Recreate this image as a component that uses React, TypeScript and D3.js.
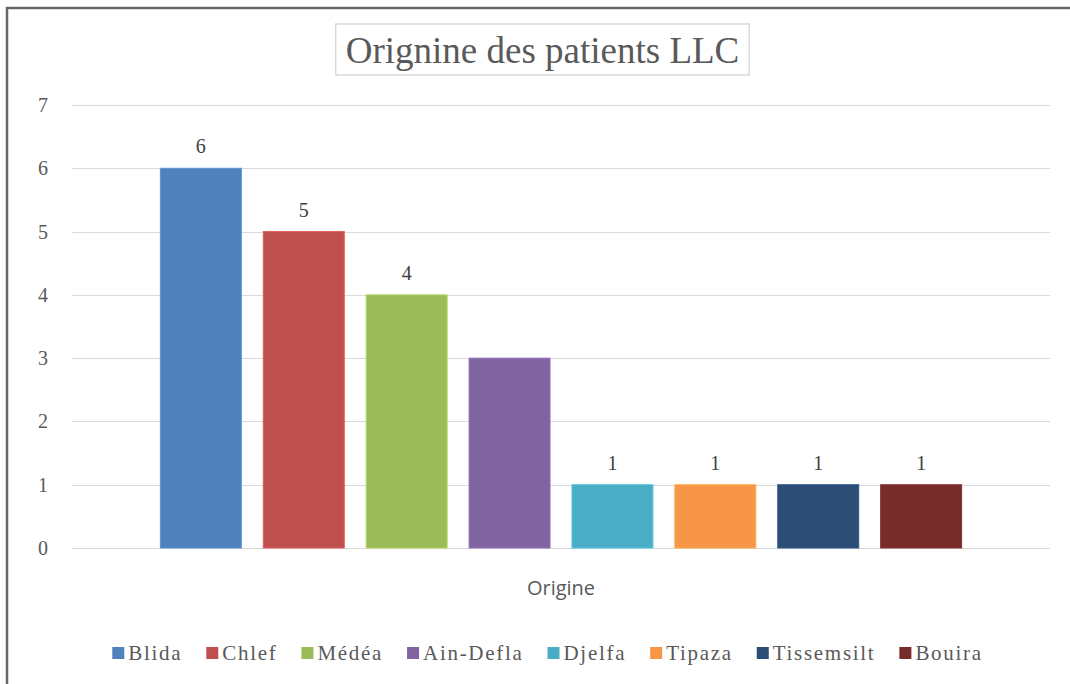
import React, { useEffect, useRef } from "react";
import * as d3 from "d3";

const categories = ["Blida", "Chlef", "Médéa", "Ain-Defla", "Djelfa", "Tipaza", "Tissemsilt", "Bouira"];
const values = [6, 5, 4, 3, 1, 1, 1, 1];
const dataLabels = ["6", "5", "4", "", "1", "1", "1", "1"];
const colors = ["#4F81BD", "#C0504D", "#9BBB59", "#8064A2", "#4BACC6", "#F79646", "#2C4D75", "#772C2A"];
const yTicks = [0, 1, 2, 3, 4, 5, 6, 7];
const titleText = "Orignine des patients LLC";
const axisTitle = "Origine";

const W = 1070;
const H = 684;

export default function App() {
  const ref = useRef<SVGSVGElement | null>(null);

  useEffect(() => {
    const svg = d3.select(ref.current);
    svg.selectAll("*").remove();

    const plotLeft = 72;
    const plotRight = 1050;
    const y = d3.scaleLinear().domain([0, 7]).range([548, 105]);
    const x = d3
      .scaleBand<string>()
      .domain(categories)
      .range([plotLeft, plotRight])
      .paddingInner(0.213)
      .paddingOuter(0.859);

    svg.append("rect").attr("x", 0).attr("y", 0).attr("width", W).attr("height", H).attr("fill", "#fff");

    // outer border
    svg
      .append("rect")
      .attr("x", 7)
      .attr("y", 8)
      .attr("width", W + 50)
      .attr("height", H + 50)
      .attr("fill", "none")
      .attr("stroke", "#666666")
      .attr("stroke-width", 2.5);

    // gridlines
    svg
      .append("g")
      .selectAll("line")
      .data(yTicks)
      .join("line")
      .attr("x1", plotLeft)
      .attr("x2", plotRight)
      .attr("y1", (d) => Math.round(y(d)) + 0.5)
      .attr("y2", (d) => Math.round(y(d)) + 0.5)
      .attr("stroke", "#d9d9d9")
      .attr("stroke-width", 1.2);

    // tick labels
    svg
      .append("g")
      .selectAll("text")
      .data(yTicks)
      .join("text")
      .attr("x", 48)
      .attr("y", (d) => y(d) + 7)
      .attr("text-anchor", "end")
      .attr("font-family", "'Liberation Serif', serif")
      .attr("font-size", 20)
      .attr("fill", "#595959")
      .text((d) => d);

    // bars
    svg
      .append("g")
      .selectAll("rect")
      .data(categories)
      .join("rect")
      .attr("x", (d) => x(d)!)
      .attr("width", x.bandwidth())
      .attr("y", (d, i) => y(values[i]))
      .attr("height", (d, i) => y(0) - y(values[i]))
      .attr("fill", (d, i) => colors[i])
      .attr("stroke", (d, i) => d3.color(colors[i])!.brighter(0.4).toString())
      .attr("stroke-width", 1);

    // value labels
    svg
      .append("g")
      .selectAll("text")
      .data(categories)
      .join("text")
      .attr("x", (d) => x(d)! + x.bandwidth() / 2)
      .attr("y", (d, i) => y(values[i]) - 15)
      .attr("text-anchor", "middle")
      .attr("font-family", "'Liberation Serif', serif")
      .attr("font-size", 20)
      .attr("fill", "#404040")
      .text((d, i) => dataLabels[i]);

    // title box + title
    const tg = svg.append("g");
    const tbox = tg
      .append("rect")
      .attr("fill", "#fff")
      .attr("stroke", "#d9d9d9")
      .attr("stroke-width", 1.5);
    const tt = tg
      .append("text")
      .attr("x", 542.5)
      .attr("y", 63)
      .attr("text-anchor", "middle")
      .attr("font-family", "'Liberation Serif', serif")
      .attr("font-size", 37)
      .attr("fill", "#595959")
      .text(titleText);
    const tw = (tt.node() as SVGTextElement).getComputedTextLength();
    tbox
      .attr("x", 542.5 - tw / 2 - 10)
      .attr("y", 24)
      .attr("width", tw + 20)
      .attr("height", 51);

    // axis title
    svg
      .append("text")
      .attr("x", (plotLeft + plotRight) / 2)
      .attr("y", 595)
      .attr("text-anchor", "middle")
      .attr("font-family", "'Open Sans', sans-serif")
      .attr("font-size", 20)
      .attr("fill", "#595959")
      .text(axisTitle);

    // legend
    const lg = svg.append("g");
    const items = lg
      .selectAll("g")
      .data(categories)
      .join("g");
    items
      .append("rect")
      .attr("x", 0)
      .attr("y", -13)
      .attr("width", 12)
      .attr("height", 12)
      .attr("fill", (d, i) => colors[i]);
    items
      .append("text")
      .attr("x", 16)
      .attr("y", 0)
      .attr("font-family", "'Liberation Serif', serif")
      .attr("font-size", 21)
      .attr("letter-spacing", 1.7)
      .attr("fill", "#595959")
      .text((d) => d);
    const widths: number[] = [];
    items.each(function () {
      const t = d3.select(this).select("text").node() as SVGTextElement;
      widths.push(16 + t.getComputedTextLength());
    });
    const gap = 24;
    const total = d3.sum(widths) + gap * (widths.length - 1);
    let cx = 547.5 - total / 2;
    const offs: number[] = [];
    widths.forEach((w) => {
      offs.push(cx);
      cx += w + gap;
    });
    items.attr("transform", (d, i) => `translate(${offs[i]},${660})`);
  }, []);

  return (
    <svg
      ref={ref}
      width={W}
      height={H}
      style={{ position: "absolute", left: 0, top: 0, display: "block" }}
    />
  );
}
